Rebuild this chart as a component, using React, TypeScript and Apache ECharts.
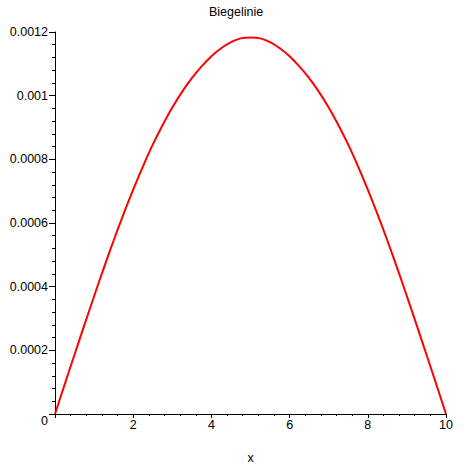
import React, { useEffect, useRef } from "react";
import * as echarts from "echarts";

const xValues = [
  0, 0.25, 0.5, 0.75, 1, 1.25, 1.5, 1.75, 2, 2.25, 2.5, 2.75, 3, 3.25, 3.5, 3.75, 4, 4.25, 4.5, 4.75, 5,
  5.25, 5.5, 5.75, 6, 6.25, 6.5, 6.75, 7, 7.25, 7.5, 7.75, 8, 8.25, 8.5, 8.75, 9, 9.25, 9.5, 9.75, 10,
];
const deflection = [
  0, 0.000094, 0.000187, 0.000279, 0.00037, 0.000459, 0.000545, 0.000627, 0.000705, 0.000778, 0.000846,
  0.000907, 0.000963, 0.001012, 0.001055, 0.001092, 0.001124, 0.001149, 0.001168, 0.00118, 0.001183,
  0.00118, 0.001168, 0.001149, 0.001124, 0.001092, 0.001055, 0.001012, 0.000963, 0.000907, 0.000846,
  0.000778, 0.000705, 0.000627, 0.000545, 0.000459, 0.00037, 0.000279, 0.000187, 0.000094, 0,
];
const titleText = "Biegelinie";
const xName = "x";

export default function App() {
  const ref = useRef<HTMLDivElement>(null);
  useEffect(() => {
    if (!ref.current) return;
    const chart = echarts.init(ref.current, null, { renderer: "svg" });
    const font = "Liberation Sans, Arial, sans-serif";
    chart.setOption({
      animation: false,
      backgroundColor: "#ffffff",
      title: {
        text: titleText,
        left: 204,
        top: 0,
        textStyle: { fontSize: 12.5, fontWeight: "normal", color: "#000", fontFamily: font },
      },
      grid: { left: 55, right: 18, top: 32, bottom: 50, outerBoundsMode: "none", containLabel: false },
      xAxis: {
        type: "value",
        min: 0,
        max: 10,
        interval: 2,
        name: xName,
        nameLocation: "middle",
        nameGap: 37,
        nameTextStyle: { fontSize: 12.5, color: "#000", fontFamily: font },
        axisLine: { show: true, onZero: false, lineStyle: { color: "#000", width: 1 } },
        axisTick: { show: true, length: 4, lineStyle: { color: "#000" } },
        minorTick: { show: true, splitNumber: 5, length: 2, lineStyle: { color: "#000" } },
        splitLine: { show: false },
        axisLabel: {
          color: "#000",
          fontSize: 12.5,
          fontFamily: font,
          margin: 4,
          formatter: (v: number) => (v === 0 ? "" : String(v)),
        },
      },
      yAxis: {
        type: "value",
        min: 0,
        max: 0.0012,
        interval: 0.0002,
        axisLine: { show: true, onZero: false, lineStyle: { color: "#000", width: 1 } },
        axisTick: { show: true, length: 6, lineStyle: { color: "#000" } },
        minorTick: { show: true, splitNumber: 5, length: 3, lineStyle: { color: "#000" } },
        splitLine: { show: false },
        axisLabel: {
          color: "#000",
          fontSize: 12.5,
          fontFamily: font,
          margin: 7,
          formatter: (v: number) => (v === 0 ? "{z|0}" : String(+v.toPrecision(6))),
          rich: { z: { fontSize: 12.5, fontFamily: font, color: "#000", padding: [14, 0, 0, 0] } },
        },
      },
      series: [
        {
          type: "line",
          data: xValues.map((x, i) => [x, deflection[i]]),
          showSymbol: false,
          smooth: 0.3,
          clip: false,
          lineStyle: { color: "#ff0000", width: 2 },
        },
      ],
    });
    return () => chart.dispose();
  }, []);
  return (
    <div
      ref={ref}
      style={{ position: "fixed", left: 0, top: 0, width: 464, height: 464 }}
    />
  );
}
